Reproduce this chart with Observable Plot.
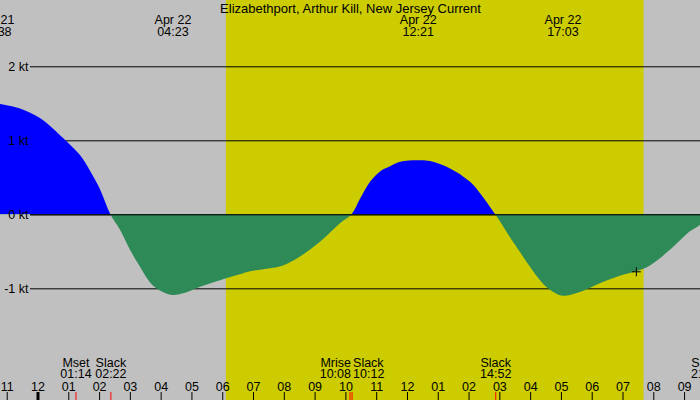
<!DOCTYPE html>
<html>
<head>
<meta charset="utf-8">
<script src="https://cdn.jsdelivr.net/npm/d3@7"></script>
<script src="https://cdn.jsdelivr.net/npm/@observablehq/plot@0.6"></script>
<style>
  html, body { margin: 0; padding: 0; background: #c0c0c0; }
  #chart svg { display: block; }
</style>
</head>
<body>
<div id="chart"></div>
<script>
// ---------- data (hours relative to midnight of Apr 22) ----------
const title = "Elizabethport, Arthur Kill, New Jersey Current";

const flowHours = [-1.367, -1.218, -0.568, 0.081, 0.731, 1.380, 1.705, 2.030, 2.367,
  2.680, 3.004, 3.329, 3.654, 3.979, 4.383, 4.791, 5.278, 5.928, 6.577, 6.902, 7.551,
  7.974, 8.526, 9.175, 9.825, 10.200, 10.475, 10.799, 11.124, 11.449, 11.774, 12.350,
  12.750, 13.400, 14.050, 14.310, 14.867, 15.346, 15.670, 15.995, 16.320, 16.645,
  17.050, 17.610, 18.260, 18.910, 19.430, 19.890, 20.540, 21.190, 21.517, 21.720];
const flowKnots = [1.50, 1.49, 1.43, 1.30, 1.07, 0.80, 0.59, 0.34, 0,
  -0.21, -0.48, -0.71, -0.92, -1.03, -1.09, -1.06, -0.98, -0.89, -0.81, -0.77, -0.73,
  -0.69, -0.57, -0.37, -0.12, 0, 0.21, 0.44, 0.58, 0.65, 0.71, 0.73,
  0.72, 0.62, 0.44, 0.32, 0, -0.31, -0.51, -0.71, -0.89, -1.02,
  -1.10, -1.05, -0.93, -0.83, -0.77, -0.69, -0.48, -0.23, -0.14, 0];

const gridKnots = [-1, 0, 1, 2];

const peakDates = ["Apr 21", "Apr 22", "Apr 22", "Apr 22"];
const peakTimes = ["22:38", "04:23", "12:21", "17:03"];

const eventNames = ["Mset", "Slack", "Mrise", "Slack", "Slack", "Slack"];
const eventTimes = ["01:14", "02:22", "10:08", "10:12", "14:52", "21:43"];

const sunrise = "06:07";
const sunset = "19:41";

const nowTime = "19:26";
const nowKnots = -0.77;

const tickHours = [-1, 0, 1, 2, 3, 4, 5, 6, 7, 8, 9, 10, 11, 12, 13, 14, 15, 16, 17, 18, 19, 20, 21];
const tickLabels = ["11", "12", "01", "02", "03", "04", "05", "06", "07", "08", "09", "10",
  "11", "12", "01", "02", "03", "04", "05", "06", "07", "08", "09"];

const xDomain = [-1.218, 21.517];
const yDomain = [-2.509, 2.896];

// ---------- helpers ----------
const toHours = (t, date = "Apr 22") => {
  const [hh, mm] = t.split(":").map(Number);
  return hh + mm / 60 + (date === "Apr 21" ? -24 : 0);
};

const flow = flowHours.map((h, i) => ({h, v: flowKnots[i]}));
const peaks = peakTimes.map((t, i) => ({h: toHours(t, peakDates[i]), label: peakDates[i] + "\n" + t}));
const events = eventTimes.map((t, i) => ({h: toHours(t), name: eventNames[i], time: t}))
  .sort((a, b) => a.h - b.h);
// resolve overlapping labels: close pairs are pushed apart
events.forEach((e, i) => {
  e.anchor = "middle";
  const prev = events[i - 1], next = events[i + 1];
  if (next && next.h - e.h < 0.5) e.anchor = "end";
  if (prev && e.h - prev.h < 0.5) e.anchor = "start";
});
const ticks = tickHours.map((h, i) => ({h, label: tickLabels[i]}));

const font = "'Liberation Sans', Arial, sans-serif";
const labelSize = 12.5;

const eventText = (anchor, field, dy) =>
  Plot.text(events.filter(e => e.anchor === anchor), {
    x: "h", text: field, frameAnchor: "bottom", lineAnchor: "middle", dy,
    dx: anchor === "middle" ? 0 : 1, textAnchor: anchor, fontSize: labelSize
  });

const plot = Plot.plot({
  width: 700,
  height: 400,
  marginTop: 0, marginRight: 0, marginBottom: 0, marginLeft: 0,
  style: {background: "#c0c0c0", fontFamily: font, fontSize: "12px", color: "black"},
  x: {domain: xDomain, axis: null},
  y: {domain: yDomain, axis: null},
  marks: [
    Plot.rect([{a: toHours(sunrise), b: toHours(sunset)}], {x1: "a", x2: "b", fill: "#cccc00"}),
    Plot.ruleY(gridKnots, {stroke: "black", insetLeft: 30}),
    Plot.areaY(flow, {x: "h", y: "v", curve: "catmull-rom", fill: "#0000ff"}),
    Plot.areaY(flow, {x: "h", y: "v", curve: "catmull-rom", fill: "#2e8b57"}),
    Plot.ruleY([0], {stroke: "black", insetLeft: 30}),
    Plot.text(gridKnots, {y: d => d, text: d => d + " kt", frameAnchor: "left", lineAnchor: "middle", dx: 28, textAnchor: "end", fontSize: 12.5}),
    Plot.text([title], {text: d => d, frameAnchor: "top", lineAnchor: "middle", dy: 8, fontSize: 13}),
    Plot.text(peaks, {x: "h", text: "label", frameAnchor: "top", lineAnchor: "middle", dy: 25.5, lineHeight: 0.95, fontSize: labelSize}),
    eventText("middle", "name", -38),
    eventText("middle", "time", -26.5),
    eventText("end", "name", -38),
    eventText("end", "time", -26.5),
    eventText("start", "name", -38),
    eventText("start", "time", -26.5),
    Plot.text(ticks, {x: "h", text: "label", frameAnchor: "bottom", lineAnchor: "middle", dy: -14, fontSize: 12.5}),
    Plot.ruleX(events, {x: "h", stroke: "red", insetTop: 392}),
    Plot.ruleX(ticks, {x: "h", stroke: "black", insetTop: 392, strokeWidth: d => d.h === 0 ? 3 : 1}),
    Plot.dot([{h: toHours(nowTime), v: nowKnots}], {x: "h", y: "v", symbol: "plus", r: 3, stroke: "black", strokeWidth: 1})
  ]
});

// clip the flood area above zero and the ebb area below zero
const zeroY = plot.scale("y").apply(0);
const svg = d3.select(plot);
const defs = svg.insert("defs", ":first-child");
defs.append("clipPath").attr("id", "clip-flood")
  .append("rect").attr("x", 0).attr("y", 0).attr("width", 700).attr("height", zeroY);
defs.append("clipPath").attr("id", "clip-ebb")
  .append("rect").attr("x", 0).attr("y", zeroY).attr("width", 700).attr("height", 400 - zeroY);
const areas = svg.selectAll('g[aria-label="area"]').nodes();
areas[0].setAttribute("clip-path", "url(#clip-flood)");
areas[1].setAttribute("clip-path", "url(#clip-ebb)");

document.getElementById("chart").append(plot);
</script>
</body>
</html>
